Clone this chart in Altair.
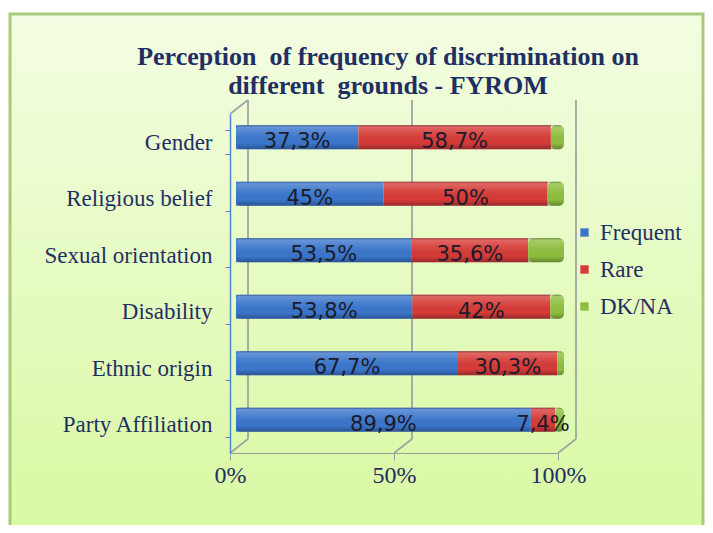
import altair as alt
import pandas as pd

categories = ["Gender", "Religious belief", "Sexual orientation", "Disability", "Ethnic origin", "Party Affiliation"]
series = ["Frequent", "Rare", "DK/NA"]
frequent = [37.3, 45.0, 53.5, 53.8, 67.7, 89.9]
rare = [58.7, 50.0, 35.6, 42.0, 30.3, 7.4]
dkna = [4.0, 5.0, 10.9, 4.2, 2.0, 2.7]
freq_labels = ["37,3%", "45%", "53,5%", "53,8%", "67,7%", "89,9%"]
rare_labels = ["58,7%", "50%", "35,6%", "42%", "30,3%", "7,4%"]
x_ticks = [0, 50, 100]
title_lines = ["Perception\u00a0 of frequency of discrimination on", "different\u00a0 grounds - FYROM"]
colors = ["#3b76cb", "#d63b37", "#8fbe3e"]

rows = []
for i, c in enumerate(categories):
    for j, (s, v, lab) in enumerate(zip(series, [frequent[i], rare[i], dkna[i]], [freq_labels[i], rare_labels[i], ""])):
        rows.append({"category": c, "series": s, "order": j, "value": v, "label": lab})
df = pd.DataFrame(rows)
ticks_df = pd.DataFrame({"v": x_ticks})

W, H = 328, 339
NAVY = "#1f2f63"
SERIF = "Liberation Serif"
DX, DY = 6, -5          # 3D depth offset of bars
BX, BY = 18, -14        # back wall offset

xscale = alt.Scale(domain=[0, 100], nice=False)
yscale = alt.Scale(domain=categories, paddingInner=0.575, paddingOuter=0.2875)
cscale = alt.Scale(domain=series, range=colors)

panel = alt.Chart(pd.DataFrame({"a": [0]})).mark_rect(
    fill=alt.LinearGradient(gradient="linear", x1=0, y1=0, x2=0, y2=1,
                            stops=[alt.GradientStop(offset=0, color="#f3fde2"),
                                   alt.GradientStop(offset=1, color="#d9f9a2")]),
    stroke="#a9ca7b", strokeWidth=3
).encode(x=alt.value(-220), x2=alt.value(473), y=alt.value(-100), y2=alt.value(420))

grid = alt.Chart(ticks_df).mark_rule(color="#a3a3a3", strokeWidth=1.8, yOffset=BY, y2Offset=BY, xOffset=BX).encode(
    x=alt.X("v:Q", scale=xscale, axis=alt.Axis(values=x_ticks, labelExpr="datum.value + '%'", grid=False,
                                               domainColor="#9c9c9c", tickColor="#9c9c9c", tickSize=7,
                                               labelFont=SERIF, labelFontSize=24, labelColor=NAVY,
                                               labelFlush=False, labelPadding=3, title=None, zindex=1)),
    y=alt.value(0), y2=alt.value(H))

diag = alt.Chart(ticks_df).mark_rule(color="#a3a3a3", strokeWidth=1.8, x2Offset=BX, y2Offset=BY).encode(
    x=alt.X("v:Q", scale=xscale), x2="v:Q", y=alt.value(H), y2=alt.value(H))

diag_top = alt.Chart(pd.DataFrame({"v": [0]})).mark_rule(color="#a3a3a3", strokeWidth=1.8, x2Offset=BX, y2Offset=BY).encode(
    x=alt.X("v:Q", scale=xscale), x2="v:Q", y=alt.value(0), y2=alt.value(0))

base = alt.Chart(df).transform_stack(
    stack="value", groupby=["category"], as_=["x0", "x1"],
    sort=[alt.SortField("order", order="ascending")]
).transform_calculate(mid="(datum.x0 + datum.x1) / 2", zero="0")

yenc = alt.Y("category:N", scale=yscale, sort=categories,
             axis=alt.Axis(title=None, domainColor="#4f86d6", tickColor="#4f86d6", tickSize=5,
                           tickBand="extent", labelFont=SERIF, labelFontSize=23, labelColor=NAVY,
                           labelPadding=13, domainWidth=1.5, zindex=1))
cenc = alt.Color("series:N", scale=cscale, sort=series,
                 legend=alt.Legend(title=None, orient="none", legendX=343, legendY=107,
                                   symbolType="square", symbolSize=70, symbolStrokeWidth=0,
                                   labelFont=SERIF, labelFontSize=23, labelColor=NAVY,
                                   rowPadding=13, labelOffset=4, padding=0))

bars = base.transform_filter("datum.series != 'DK/NA'").mark_bar(xOffset=DX, x2Offset=DX, yOffset=DY).encode(
    x=alt.X("x0:Q", scale=xscale), x2="x1:Q", y=yenc, color=cenc)
bars_dk = base.transform_filter("datum.series == 'DK/NA'").mark_bar(xOffset=DX, x2Offset=DX, yOffset=DY, cornerRadiusEnd=5).encode(
    x=alt.X("x0:Q", scale=xscale), x2="x1:Q", y=yenc, color=cenc)

shine = base.transform_filter("datum.series == 'DK/NA'").mark_bar(
    xOffset=DX, x2Offset=DX, yOffset=DY, cornerRadiusEnd=5,
    fill=alt.LinearGradient(gradient="linear", x1=0, y1=0, x2=0, y2=1, stops=[
        alt.GradientStop(offset=0, color="rgba(0,0,40,0.35)"),
        alt.GradientStop(offset=0.08, color="rgba(255,255,255,0.22)"),
        alt.GradientStop(offset=0.35, color="rgba(255,255,255,0.08)"),
        alt.GradientStop(offset=0.75, color="rgba(0,0,0,0.0)"),
        alt.GradientStop(offset=1, color="rgba(0,0,30,0.30)")])
).encode(x=alt.X("zero:Q", scale=xscale), x2="x1:Q", y=alt.Y("category:N", scale=yscale, sort=categories))

labels = base.transform_filter("datum.label != ''").mark_text(
    font="DejaVu Sans", fontSize=21, color="#1b1b2b", xOffset=DX, yOffset=DY + 5, baseline="middle"
).encode(x=alt.X("mid:Q", scale=xscale), y=alt.Y("category:N", scale=yscale, sort=categories), text="label:N")

tdf = pd.DataFrame({"t": title_lines})
title1 = alt.Chart(tdf).transform_filter(alt.datum.t == title_lines[0]).mark_text(
    font=SERIF, fontSize=26, fontWeight="bold", color=NAVY, baseline="middle", align="center"
).encode(x=alt.value(158), y=alt.value(-57), text="t:N")
title2 = alt.Chart(tdf).transform_filter(alt.datum.t == title_lines[1]).mark_text(
    font=SERIF, fontSize=26, fontWeight="bold", color=NAVY, baseline="middle", align="center"
).encode(x=alt.value(158), y=alt.value(-28), text="t:N")

chart = alt.layer(panel, grid, diag, diag_top, bars, bars_dk, shine, labels, title1, title2).properties(
    width=W, height=H,
    autosize=alt.AutoSizeParams(type="none"),
    padding={"left": 222, "top": 106, "right": 147, "bottom": 72},
    background="white"
).configure_view(stroke=None)

chart.save("out.html", embed_options={"renderer": "svg", "actions": False})
